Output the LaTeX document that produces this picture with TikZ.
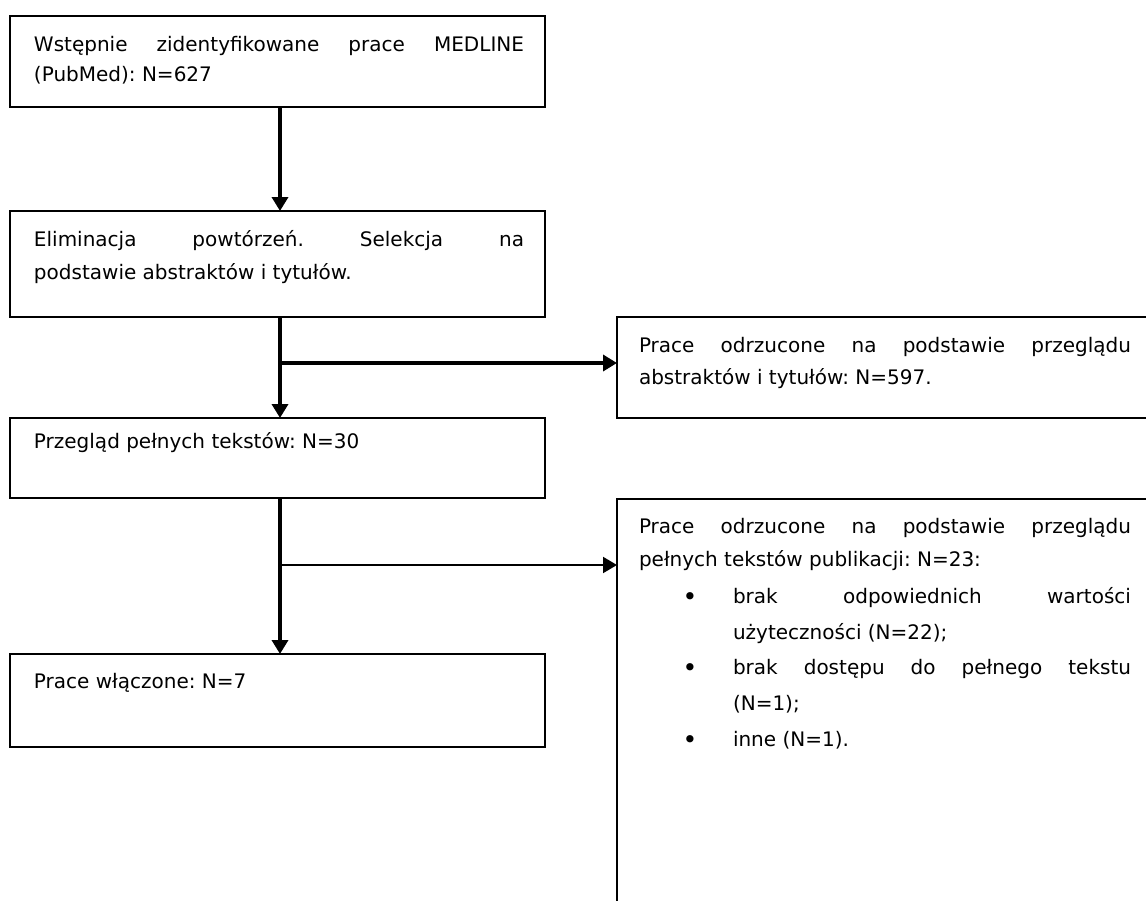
\documentclass[tikz,border=0pt]{standalone}
\usepackage{fontspec}
\setmainfont{DejaVu Sans}
\usetikzlibrary{arrows.meta}
\frenchspacing
\begin{document}
\begin{tikzpicture}[x=1pt,y=-1pt,
  box/.style={draw, line width=2pt, anchor=north west, inner sep=0pt, outer sep=0pt},
  txt/.style={anchor=north west, inner sep=0pt, outer sep=0pt, align=justify, font=\fontsize{20}{33}\selectfont\frenchspacing},
  bul/.style={anchor=base, inner sep=0pt, outer sep=0pt, font=\fontsize{25}{33}\selectfont},
  flow/.style={line width=3.5pt, -{Triangle[length=14pt,width=16pt]}},
  sideflow/.style={line width=2pt, -{Triangle[length=14pt,width=16pt]}}]
\useasboundingbox (0,0) rectangle (1146,900);
\fill[white] (0,0) rectangle (1146,900);
\clip (0,0) rectangle (1146,900);
% boxes
\node[box, minimum width=535pt, minimum height=91pt] (b1) at (10,16) {};
\node[box, minimum width=535pt, minimum height=106pt] (b2) at (10,211) {};
\node[box, minimum width=535pt, minimum height=80pt] (b3) at (10,418) {};
\node[box, minimum width=535pt, minimum height=93pt] (b4) at (10,654) {};
\node[box, minimum width=560pt, minimum height=101pt] (rA) at (617,317) {};
\node[box, minimum width=560pt, minimum height=420pt] (rB) at (617,499) {};
% texts
\node[txt, text width=490pt, font=\fontsize{20}{30}\selectfont\frenchspacing] (t1) at (34,30)
  {\noindent\strut Wstępnie zidentyfikowane prace MEDLINE\linebreak (PubMed): N=627};
\node[txt, text width=490pt] (t2) at (34,223)
  {\noindent\strut Eliminacja powtórzeń. Selekcja na\linebreak podstawie abstraktów i tytułów.};
\node[txt, text width=490pt] (t3) at (34,425)
  {\noindent\strut Przegląd pełnych tekstów: N=30};
\node[txt, text width=490pt] (t4) at (34,665)
  {\noindent\strut Prace włączone: N=7};
\node[txt, text width=492pt, font=\fontsize{20}{32}\selectfont\frenchspacing] (tA) at (639,330)
  {\noindent\strut Prace odrzucone na podstawie przeglądu\linebreak abstraktów i tytułów: N=597.};
\node[txt, text width=492pt] (tB) at (639,510)
  {\noindent\strut Prace odrzucone na podstawie przeglądu\linebreak pełnych tekstów publikacji: N=23:};
\node[bul] (d1) at (690,605) {•};
\node[txt, text width=398pt, font=\fontsize{20}{36}\selectfont\frenchspacing] (i1) at (733,578)
  {\noindent\strut brak odpowiednich wartości\linebreak użyteczności (N=22);};
\node[bul] (d2) at (690,676) {•};
\node[txt, text width=398pt, font=\fontsize{20}{36}\selectfont\frenchspacing] (i2) at (733,649)
  {\noindent\strut brak dostępu do pełnego tekstu\linebreak (N=1);};
\node[bul] (d3) at (690,748) {•};
\node[txt, text width=398pt, font=\fontsize{20}{36}\selectfont\frenchspacing] (i3) at (733,721)
  {\noindent\strut inne (N=1).};
% connectors
\coordinate (ax) at (280,0);
\draw[flow] (b1.south -| ax) -- (b2.north -| ax);
\draw[flow] (b2.south -| ax) -- (b3.north -| ax);
\draw[flow] (b3.south -| ax) -- (b4.north -| ax);
\path (b2.south -| ax) ++(0,46) coordinate (jA);
\draw[flow] (jA) -- (jA -| rA.west);
\path (b3.south -| ax) ++(0,67) coordinate (jB);
\draw[sideflow] (jB) -- (jB -| rB.west);
\end{tikzpicture}
\end{document}
